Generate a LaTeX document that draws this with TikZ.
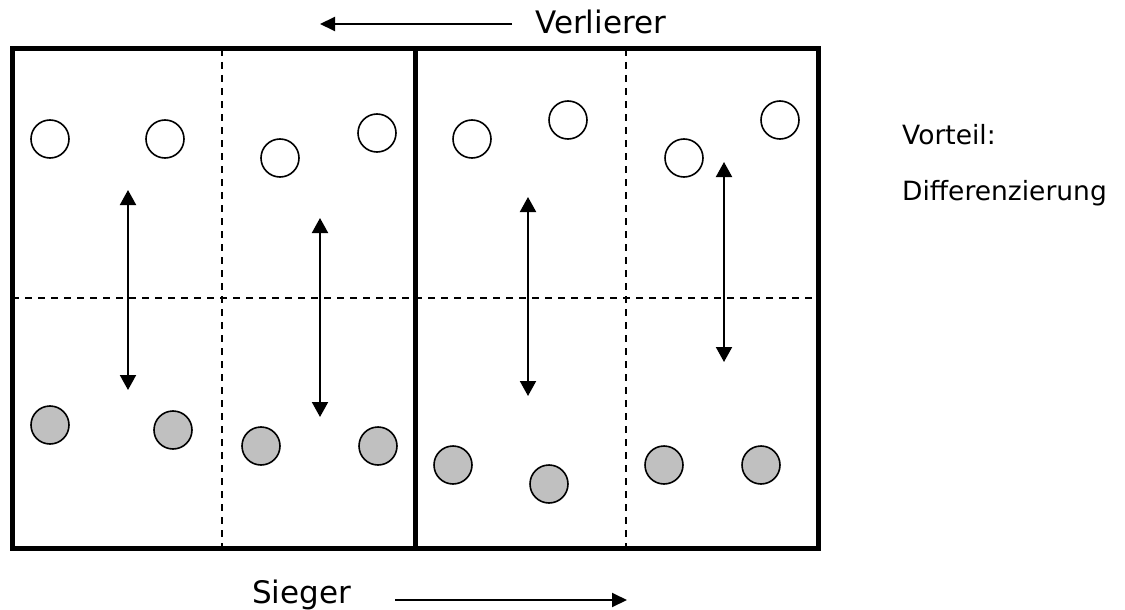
\documentclass[tikz,border=0pt]{standalone}
\usepackage{fontspec}
\setmainfont{DejaVu Sans}
\usetikzlibrary{arrows.meta}
\definecolor{dotgrey}{HTML}{C0C0C0}
\begin{document}
\begin{tikzpicture}[x=1pt,y=-1pt,
  wc/.style={circle,draw=black,line width=1.6pt,minimum size=38pt,inner sep=0pt,fill=white},
  gc/.style={wc,fill=dotgrey},
  frame/.style={line width=5pt},
  dline/.style={line width=2.1pt,dash pattern=on 7pt off 6pt},
  darr/.style={line width=2pt,{Triangle[width=16pt,length=15pt]}-{Triangle[width=16pt,length=15pt]}},
  sarr/.style={line width=2pt,-{Triangle[width=14pt,length=15pt]}},
  big/.style={font=\fontsize{31}{36}\selectfont,inner sep=0pt,anchor=base west},
  side/.style={font=\fontsize{26.5}{32}\selectfont,inner sep=0pt,anchor=base west}]
\useasboundingbox (0,0) rectangle (1125,610);

% frame and dividers
\coordinate (tl) at (12,49);
\coordinate (br) at (818,548);
\coordinate (mt) at (415.5,49);
\coordinate (mb) at (415.5,548);
\coordinate (d1t) at (222,49);
\coordinate (d1b) at (222,548);
\coordinate (d2t) at (626,49);
\coordinate (d2b) at (626,548);
\coordinate (hl) at (12,298);
\coordinate (hr) at (818,298);
\draw[dline] (d1t) -- (d1b);
\draw[dline] (d2t) -- (d2b);
\draw[dline] (hl) -- (hr);
\draw[frame] (tl) rectangle (br);
\draw[frame] (mt) -- (mb);

% white circles
\node[wc] (w1) at (50,139) {};
\node[wc] (w2) at (165,139) {};
\node[wc] (w3) at (280,158) {};
\node[wc] (w4) at (377,133) {};
\node[wc] (w5) at (472,139) {};
\node[wc] (w6) at (568,120) {};
\node[wc] (w7) at (684,158) {};
\node[wc] (w8) at (780,120) {};

% grey circles
\node[gc] (g1) at (50,425) {};
\node[gc] (g2) at (173,430) {};
\node[gc] (g3) at (261,446) {};
\node[gc] (g4) at (378,446) {};
\node[gc] (g5) at (453,465) {};
\node[gc] (g6) at (549,484) {};
\node[gc] (g7) at (664,465) {};
\node[gc] (g8) at (761,465) {};

% double arrows
\coordinate (a1t) at (128,190);
\coordinate (a1b) at (128,390);
\coordinate (a2t) at (320,218);
\coordinate (a2b) at (320,417);
\coordinate (a3t) at (528,197);
\coordinate (a3b) at (528,396);
\coordinate (a4t) at (724,162);
\coordinate (a4b) at (724,362);
\draw[darr] (a1t) -- (a1b);
\draw[darr] (a2t) -- (a2b);
\draw[darr] (a3t) -- (a3b);
\draw[darr] (a4t) -- (a4b);

% labels and direction arrows
\node[big] (verl) at (535,34) {Verlierer};
\coordinate (vs) at (512,24);
\coordinate (ve) at (320,24);
\draw[sarr] (vs) -- (ve);

\node[big] (sieg) at (252,603) {Sieger};
\coordinate (ss) at (395,600);
\coordinate (se) at (627,600);
\draw[sarr] (ss) -- (se);

\node[side] (vort) at (902,144) {Vorteil:};
\node[side] (diff) at (902,200) {Differenzierung};
\end{tikzpicture}
\end{document}
